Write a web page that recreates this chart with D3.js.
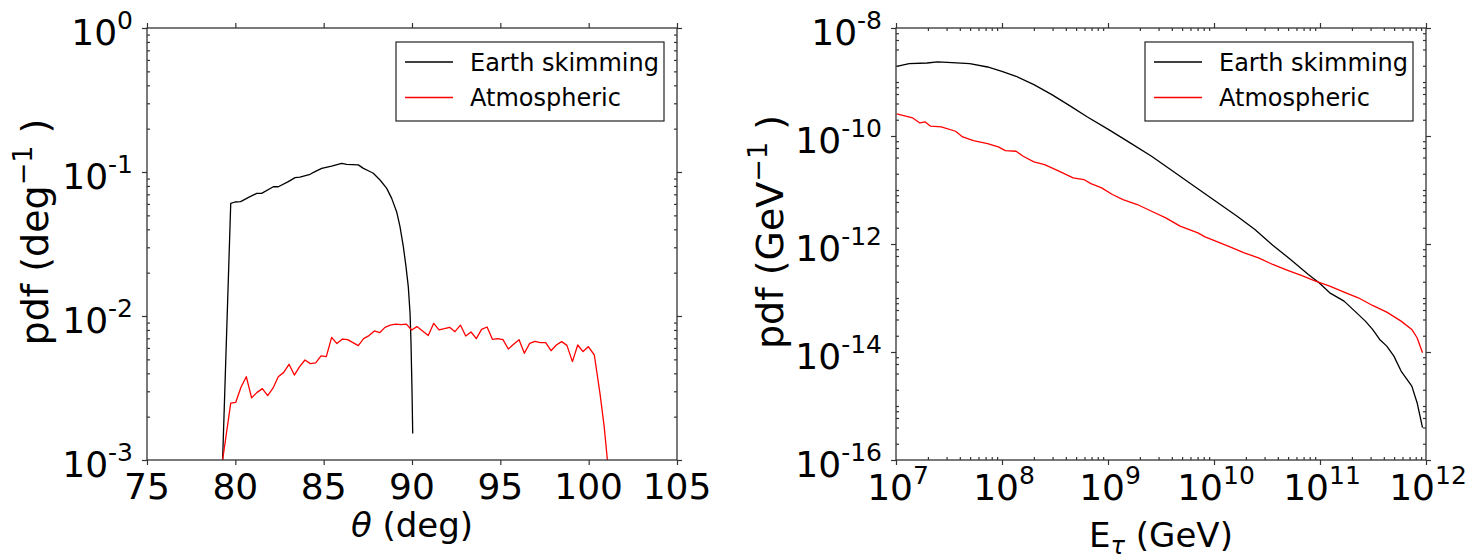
<!DOCTYPE html>
<html>
<head>
<meta charset="utf-8">
<script src="https://cdn.jsdelivr.net/npm/d3@7"></script>
<style>
  body { margin: 0; background: #fff; }
  text { font-family: "DejaVu Sans", sans-serif; fill: #000; }
</style>
</head>
<body>
<svg id="chart" width="1475" height="560"></svg>
<script>

///////////////////////////////////////////////////////////////////////////
//////////////////////////////// Data /////////////////////////////////////
///////////////////////////////////////////////////////////////////////////

var legendLabels = ["Earth skimming", "Atmospheric"];
var seriesColors = ["#000000", "#ff0000"];

//Left panel: zenith angle pdf
var thetaTicks = [75, 80, 85, 90, 95, 100, 105];
var thetaPdfExp = [0, -1, -2, -3];

var skimTheta = [79.28, 79.74, 79.98, 80.30, 80.83, 81.21, 81.49, 82.15, 82.43, 83.00, 83.38, 83.66, 84.23, 84.51, 84.89, 85.45, 86.02, 86.30, 86.96, 87.25, 87.53, 87.81, 88.19, 88.57, 88.85, 89.13, 89.32, 89.51, 89.66, 89.79, 89.89, 89.94, 90.00, 90.04];
var skimThetaPdf = [0.001, 0.0606, 0.0619, 0.0622, 0.0674, 0.0711, 0.0711, 0.079, 0.079, 0.0857, 0.0914, 0.092, 0.0964, 0.1005, 0.106, 0.110, 0.1148, 0.113, 0.112, 0.106, 0.102, 0.098, 0.088, 0.077, 0.0656, 0.053, 0.0417, 0.0303, 0.022, 0.016, 0.0104, 0.0068, 0.00306, 0.00153];

var atmTheta = [79.28, 79.74, 80.02, 80.32, 80.62, 80.92, 81.23, 81.53, 81.83, 82.13, 82.43, 82.74, 83.04, 83.34, 83.64, 83.94, 84.25, 84.55, 84.85, 85.15, 85.45, 85.75, 86.06, 86.36, 86.66, 86.96, 87.26, 87.57, 87.87, 88.17, 88.47, 88.77, 89.07, 89.38, 89.68, 89.98, 90.28, 90.58, 90.92, 91.23, 91.53, 91.83, 92.13, 92.43, 92.74, 93.04, 93.34, 93.64, 93.94, 94.25, 94.55, 94.85, 95.15, 95.45, 95.75, 96.06, 96.36, 96.66, 96.96, 97.26, 97.57, 97.87, 98.17, 98.47, 98.77, 99.08, 99.38, 99.68, 99.98, 100.32, 100.64, 100.88, 101.06];
var atmThetaPdf = [0.001, 0.00248, 0.00251, 0.0032, 0.00379, 0.0027, 0.00295, 0.00313, 0.0028, 0.00315, 0.00379, 0.00406, 0.00462, 0.00389, 0.00445, 0.00495, 0.00467, 0.00472, 0.00528, 0.00522, 0.00711, 0.00643, 0.00692, 0.00685, 0.00653, 0.00623, 0.00697, 0.00731, 0.00787, 0.00766, 0.00834, 0.00865, 0.00879, 0.0087, 0.00879, 0.008, 0.00844, 0.00791, 0.00731, 0.00889, 0.008, 0.00816, 0.00834, 0.00778, 0.00865, 0.00726, 0.00774, 0.00697, 0.00807, 0.00839, 0.00689, 0.00697, 0.00685, 0.0059, 0.00636, 0.00685, 0.00551, 0.00646, 0.00667, 0.00653, 0.00653, 0.00574, 0.00629, 0.00664, 0.00625, 0.00482, 0.00629, 0.00566, 0.00612, 0.00536, 0.0029, 0.0017, 0.001];

//Right panel: tau energy pdf (values read as log10)
var energyExp = [7, 8, 9, 10, 11, 12];
var energyPdfExp = [-8, -10, -12, -14, -16];

var skimLogE = [7.007, 7.124, 7.293, 7.393, 7.528, 7.696, 7.864, 7.999, 8.133, 8.301, 8.470, 8.638, 8.806, 9.007, 9.209, 9.411, 9.613, 9.814, 10.016, 10.218, 10.386, 10.554, 10.722, 10.890, 10.991, 11.092, 11.227, 11.328, 11.428, 11.496, 11.563, 11.630, 11.697, 11.765, 11.866, 11.916, 11.967];
var skimLogEPdf = [-8.709, -8.660, -8.648, -8.629, -8.642, -8.660, -8.722, -8.802, -8.894, -9.049, -9.234, -9.437, -9.647, -9.882, -10.128, -10.375, -10.652, -10.930, -11.207, -11.485, -11.732, -12.022, -12.287, -12.564, -12.718, -12.904, -13.058, -13.243, -13.428, -13.582, -13.767, -13.891, -14.076, -14.353, -14.631, -14.939, -15.402];

var atmLogE = [7.007, 7.158, 7.225, 7.276, 7.326, 7.427, 7.562, 7.629, 7.730, 7.864, 7.965, 8.032, 8.133, 8.200, 8.301, 8.402, 8.537, 8.671, 8.772, 8.839, 8.940, 9.041, 9.142, 9.276, 9.411, 9.545, 9.680, 9.848, 9.915, 10.016, 10.151, 10.285, 10.420, 10.554, 10.689, 10.823, 10.958, 11.092, 11.227, 11.361, 11.496, 11.630, 11.765, 11.866, 11.916, 11.967];
var atmLogEPdf = [-9.591, -9.665, -9.758, -9.739, -9.819, -9.832, -9.912, -10.017, -10.085, -10.140, -10.202, -10.270, -10.282, -10.375, -10.480, -10.529, -10.652, -10.776, -10.806, -10.881, -10.961, -11.084, -11.177, -11.269, -11.393, -11.516, -11.670, -11.794, -11.867, -11.947, -12.052, -12.164, -12.256, -12.379, -12.484, -12.583, -12.688, -12.780, -12.891, -12.996, -13.138, -13.261, -13.428, -13.582, -13.736, -14.014];

///////////////////////////////////////////////////////////////////////////
//////////////////////////////// Setup ////////////////////////////////////
///////////////////////////////////////////////////////////////////////////

var svg = d3.select("#chart");
var plotTop = 28, plotBottom = 460;
var tickFont = 36, supFont = 25, labelFont = 34, yLabelFont = 38;

function pow10(v) { return Math.pow(10, v); }

function minorLog(kFrom, kTo, subs) {
  var out = [];
  for (var k = kFrom; k < kTo; k++) subs.forEach(function(m) { out.push(m * pow10(k)); });
  return out;
}

//Add a "10^n" label as text with a raised tspan
function powerLabel(sel, exp) {
  sel.append("tspan").style("font-size", tickFont + "px").text("10");
  sel.append("tspan").style("font-size", supFont + "px").attr("dy", -16).text(exp);
}

//Rotated "pdf (unit^-1 )" label
function yAxisTitle(g, cx, cy, unit) {
  var t = g.append("text")
    .attr("transform", "translate(" + cx + "," + cy + ") rotate(-90)")
    .style("text-anchor", "middle")
    .style("font-size", yLabelFont + "px");
  t.append("tspan").text("pdf (" + unit);
  t.append("tspan").attr("dy", -16).style("font-size", "27px").text("\u22121");
  t.append("tspan").attr("dy", 16).text(" )");
}

function drawPanel(cfg) {
  var x = cfg.x, y = cfg.y;
  var x0 = x.range()[0], x1 = x.range()[1];
  var g = svg.append("g");

  g.append("clipPath").attr("id", cfg.id + "-clip")
    .append("rect").attr("x", x0).attr("y", plotTop).attr("width", x1 - x0).attr("height", plotBottom - plotTop);

  //Curves
  var line = d3.line().x(function(d) { return x(d[0]); }).y(function(d) { return y(d[1]); });
  cfg.series.forEach(function(s, i) {
    g.append("path")
      .datum(d3.zip(s[0], s[1]))
      .attr("clip-path", "url(#" + cfg.id + "-clip)")
      .attr("d", line)
      .style("fill", "none")
      .style("stroke", seriesColors[i])
      .style("stroke-width", 1.3)
      .style("stroke-linejoin", "round");
  });

  //Ticks on all four sides (majors out, minors in)
  function noDomain(a) { a.select(".domain").remove(); a.selectAll("line").style("stroke", "#333").style("stroke-width", 1.2); }
  g.append("g").attr("transform", "translate(0," + plotBottom + ")")
    .call(d3.axisBottom(x).tickValues(cfg.xMajor).tickSize(5).tickFormat("")).call(noDomain);
  g.append("g").attr("transform", "translate(0," + plotTop + ")")
    .call(d3.axisTop(x).tickValues(cfg.xMajor).tickSize(5).tickFormat("")).call(noDomain);
  g.append("g").attr("transform", "translate(" + x0 + ",0)")
    .call(d3.axisLeft(y).tickValues(cfg.yMajor).tickSize(5).tickFormat("")).call(noDomain);
  g.append("g").attr("transform", "translate(" + x1 + ",0)")
    .call(d3.axisRight(y).tickValues(cfg.yMajor).tickSize(5).tickFormat("")).call(noDomain);
  if (cfg.xMinor.length) {
    g.append("g").attr("transform", "translate(0," + plotBottom + ")")
      .call(d3.axisBottom(x).tickValues(cfg.xMinor).tickSize(-3).tickFormat("")).call(noDomain);
    g.append("g").attr("transform", "translate(0," + plotTop + ")")
      .call(d3.axisTop(x).tickValues(cfg.xMinor).tickSize(-3).tickFormat("")).call(noDomain);
  }
  g.append("g").attr("transform", "translate(" + x0 + ",0)")
    .call(d3.axisLeft(y).tickValues(cfg.yMinor).tickSize(-3).tickFormat("")).call(noDomain);
  g.append("g").attr("transform", "translate(" + x1 + ",0)")
    .call(d3.axisRight(y).tickValues(cfg.yMinor).tickSize(-3).tickFormat("")).call(noDomain);

  //Frame
  g.append("rect")
    .attr("x", x0).attr("y", plotTop).attr("width", x1 - x0).attr("height", plotBottom - plotTop)
    .style("fill", "none").style("stroke", "#333").style("stroke-width", 1.3);

  //Y tick labels
  g.selectAll(".y-label")
    .data(cfg.yMajor)
    .enter().append("text")
    .attr("class", "y-label")
    .attr("x", x0 - 14)
    .attr("y", function(d) { return y(d) + 17; })
    .style("text-anchor", "end")
    .each(function(d) { powerLabel(d3.select(this), String(Math.round(Math.log10(d)))); });

  //X tick labels
  if (cfg.xPower) {
    g.selectAll(".x-label")
      .data(cfg.xMajor)
      .enter().append("text")
      .attr("class", "x-label")
      .attr("x", function(d) { return x(d) + 2; })
      .attr("y", 500)
      .style("text-anchor", "middle")
      .each(function(d) { powerLabel(d3.select(this), String(Math.round(Math.log10(d)))); });
  } else {
    g.selectAll(".x-label")
      .data(cfg.xMajor)
      .enter().append("text")
      .attr("class", "x-label")
      .attr("x", function(d) { return x(d); })
      .attr("y", 499)
      .style("text-anchor", "middle")
      .style("font-size", tickFont + "px")
      .text(function(d) { return d; });
  }

  //Legend
  var lx = x1 - 281, ly = 42;
  g.append("rect")
    .attr("x", lx).attr("y", ly).attr("width", 268).attr("height", 79)
    .style("fill", "#fff").style("stroke", "#222").style("stroke-width", 1.2);
  legendLabels.forEach(function(label, i) {
    var yy = ly + 20 + i * 35.5;
    g.append("line")
      .attr("x1", lx + 9).attr("x2", lx + 57).attr("y1", yy).attr("y2", yy)
      .style("stroke", seriesColors[i]).style("stroke-width", 1.3);
    g.append("text")
      .attr("x", lx + 74).attr("y", yy).attr("dy", "0.36em")
      .style("font-size", "24px")
      .text(label);
  });

  return g;
}

///////////////////////////////////////////////////////////////////////////
/////////////////////////////// Left panel ////////////////////////////////
///////////////////////////////////////////////////////////////////////////

var xTheta = d3.scaleLinear().domain([75, 105]).range([147, 677]);
var yTheta = d3.scaleLog().domain([1e-3, 1]).range([plotBottom, plotTop]);

var left = drawPanel({
  id: "theta",
  x: xTheta, y: yTheta,
  xMajor: thetaTicks, xMinor: [], xPower: false,
  yMajor: thetaPdfExp.map(pow10),
  yMinor: minorLog(-3, 0, [2, 3, 4, 5, 6, 7, 8, 9]),
  series: [[skimTheta, skimThetaPdf], [atmTheta, atmThetaPdf]]
});

yAxisTitle(left, 48, 232, "deg");

var xl = left.append("text")
  .attr("x", 412).attr("y", 537)
  .style("text-anchor", "middle")
  .style("font-size", labelFont + "px");
xl.append("tspan").style("font-style", "italic").text("\u03b8");
xl.append("tspan").text(" (deg)");

///////////////////////////////////////////////////////////////////////////
/////////////////////////////// Right panel ///////////////////////////////
///////////////////////////////////////////////////////////////////////////

var xEnergy = d3.scaleLog().domain([1e7, 1e12]).range([896, 1426]);
var yEnergy = d3.scaleLog().domain([1e-16, 1e-8]).range([plotBottom, plotTop]);

var right = drawPanel({
  id: "energy",
  x: xEnergy, y: yEnergy,
  xMajor: energyExp.map(pow10),
  xMinor: minorLog(7, 12, [2, 3, 4, 5, 6, 7, 8, 9]),
  xPower: true,
  yMajor: energyPdfExp.map(pow10),
  yMinor: minorLog(-16, -8, [2, 4, 6, 8]).concat([-15, -13, -11, -9].map(pow10)),
  series: [[skimLogE.map(pow10), skimLogEPdf.map(pow10)], [atmLogE.map(pow10), atmLogEPdf.map(pow10)]]
});

yAxisTitle(right, 783, 232, "GeV");

var xr = right.append("text")
  .attr("x", 1161).attr("y", 547)
  .style("text-anchor", "middle")
  .style("font-size", labelFont + "px");
xr.append("tspan").text("E");
xr.append("tspan").attr("dy", 7).style("font-size", "24px").style("font-style", "italic").text("\u03c4");
xr.append("tspan").attr("dy", -7).text(" (GeV)");

</script>
</body>
</html>
